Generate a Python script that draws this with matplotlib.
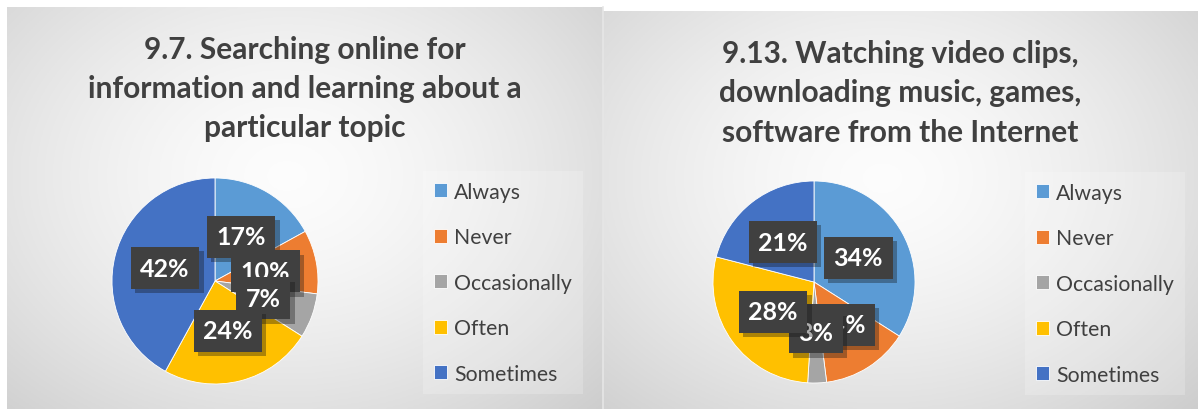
import numpy as np
import matplotlib
matplotlib.use("Agg")
import matplotlib.pyplot as plt
import matplotlib.patheffects as pe

categories = ["Always", "Never", "Occasionally", "Often", "Sometimes"]
colors = ["#5B9BD5", "#ED7D31", "#A5A5A5", "#FFC000", "#4472C4"]

title_left = "9.7. Searching online for\ninformation and learning about a\nparticular topic"
values_left = [17, 10, 7, 24, 42]

title_right = "9.13. Watching video clips,\ndownloading music, games,\nsoftware from the Internet"
values_right = [34, 14, 3, 28, 21]

W, H = 1198, 410
plt.rcParams['font.family'] = ['Lato', 'DejaVu Sans']

fig = plt.figure(figsize=(W / 100, H / 100), dpi=100)


def px(x, y, w, h):
    # pixel box (top-left origin) -> figure fraction rect
    return [x / W, (H - y - h) / H, w / W, h / H]


def panel_bg(x0, y0, x1, y1):
    ax = fig.add_axes(px(x0, y0, x1 - x0, y1 - y0))
    ax.set_axis_off()
    nx, ny = 300, 200
    xx, yy = np.meshgrid(np.linspace(0, 1, nx), np.linspace(0, 1, ny))
    d = np.sqrt(((xx - 0.47) / 0.75) ** 2 + ((yy - 0.42) / 0.85) ** 2)
    d = np.clip(d, 0, 1)
    v = 0.99 - 0.19 * d ** 1.5
    img = np.dstack([v, v, v])
    ax.imshow(img, extent=(0, 1, 0, 1), aspect='auto', origin='upper')
    ax.set_xlim(0, 1)
    ax.set_ylim(0, 1)
    return ax


def draw_chart(x0, x1, y0, title, values, cx, cy, r, leg_x, leg_y, title_y):
    panel_bg(x0, y0, x1, H)
    fig.text((x0 + x1) / 2 / W, 1 - title_y / H, title, ha='center', va='center',
             fontsize=21.5, fontweight='bold', color='#404040', linespacing=1.5)

    ax = fig.add_axes(px(cx - r, cy - r, 2 * r, 2 * r))
    wedges, texts, autotexts = ax.pie(
        values, colors=colors, startangle=90, counterclock=False,
        autopct='%1.0f%%', pctdistance=0.5,
        wedgeprops=dict(edgecolor='white', linewidth=0.6))
    ax.set_xlim(-1, 1)
    ax.set_ylim(-1, 1)
    ax.set_aspect('equal')
    for t in autotexts:
        t.set_color('white')
        t.set_fontsize(18)
        t.set_fontweight('bold')
        t.set_bbox(dict(boxstyle='square,pad=0.38', facecolor='#404040',
                        edgecolor='none'))
        t.get_bbox_patch().set_path_effects(
            [pe.SimplePatchShadow(offset=(3, -3), alpha=0.35), pe.Normal()])

    leg = fig.legend(wedges, categories, loc='upper left',
                     bbox_to_anchor=(leg_x / W, 1 - leg_y / H),
                     frameon=True, fontsize=15.3, labelcolor='#404040',
                     handlelength=0.62, handleheight=0.62, handletextpad=0.35,
                     labelspacing=1.2, borderpad=0.5, borderaxespad=0)
    frame = leg.get_frame()
    frame.set_facecolor('white')
    frame.set_alpha(0.2)
    frame.set_edgecolor('none')
    frame.set_boxstyle('square', pad=0)


draw_chart(7, 603, 8, title_left, values_left, 215, 282, 103, 423, 172, 89)
draw_chart(603, 1198, 12, title_right, values_right, 814, 283, 101, 1025, 173, 93)

# thin separator between the two panels
fig.add_artist(plt.Line2D([603 / W, 603 / W], [0, 1 - 8 / H],
                          color='#e6e6e6', linewidth=1.2))

fig.savefig("out.png", dpi=100, facecolor='white')
